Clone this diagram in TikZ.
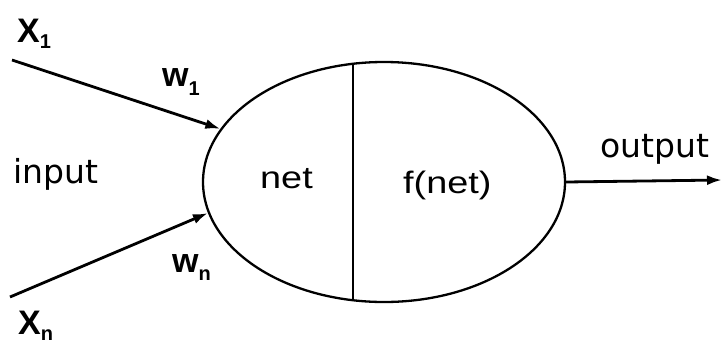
\documentclass[tikz,border=0pt]{standalone}
\usepackage{fontspec}
\setmainfont{Liberation Sans}
\newfontfamily\wordfont{DejaVu Sans}
\newfontfamily\netfont[FakeStretch=1.22]{Liberation Sans}
\usepackage{tikz}
\usetikzlibrary{shapes.geometric,arrows.meta}
\tikzstyle{line} = [draw, line width=2.8pt, -{Latex[length=15pt,width=10pt]}]
\tikzstyle{cell} = [draw, ellipse, line width=2.3pt, minimum width=362pt, minimum height=240pt, inner sep=0pt]
\tikzstyle{weight} = [inner sep=0pt, anchor=base west, font=\fontsize{34}{36}\selectfont\bfseries]
\tikzstyle{word} = [inner sep=0pt, anchor=base west, font=\wordfont\fontsize{33}{36}\selectfont]
\tikzstyle{part} = [inner sep=0pt, anchor=base west, font=\netfont\fontsize{31}{34}\selectfont]
\newcommand{\lowidx}[2]{\raisebox{-#1}{\fontsize{20}{20}\selectfont\bfseries #2}}

\begin{document}
\begin{tikzpicture}[x=1pt, y=-1pt]
        \useasboundingbox (0,0) rectangle (722,343);
        \node[cell] (neuron) at (384,182) {};
        \node[weight] (x1) at (17,42) {X\lowidx{6pt}{1}};
        \node[weight] (w1) at (162,86) {w\lowidx{9pt}{1}};
        \node[weight] (wn) at (172,272) {w\lowidx{8pt}{n}};
        \node[weight] (xn) at (18,334) {X\lowidx{6pt}{n}};
        \node[word] (input) at (13,183) {input};
        \node[word] (output) at (600,157) {output};
        \node[part] (net) at (260,188) {net};
        \node[part] (fnet) at (403,193) {f(net)};
        \coordinate (from1) at (12,60);
        \coordinate (fromn) at (10,297);
        \coordinate (away) at (722,180);
        \coordinate (divtop) at (353,64);
        \coordinate (divbot) at (353,300);
        \draw[line width=1.3pt] (divtop) -- (divbot);
        \path[line] (from1) -- (neuron.162);
        \path[line] (fromn) -- (neuron.190);
        \path[line] (neuron.east) -- (away);
    \end{tikzpicture}
\end{document}
